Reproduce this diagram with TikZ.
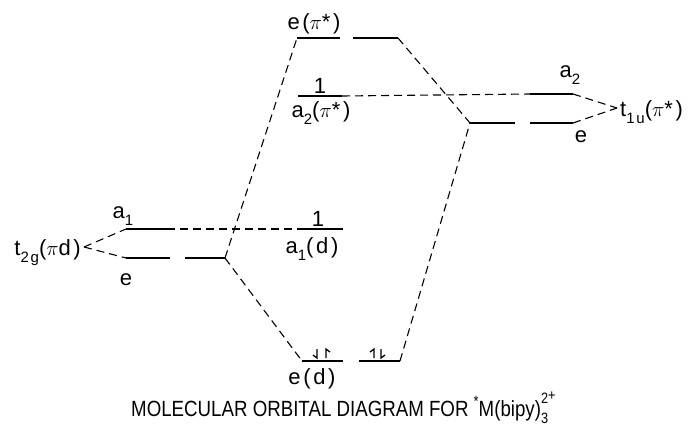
\documentclass[tikz,border=0pt]{standalone}
\usepackage{fontspec}
\setmainfont{Liberation Sans}
\newfontfamily\labf[LetterSpace=12]{Liberation Sans}
\newfontfamily\capf[FakeStretch=0.85]{Liberation Sans}
\newcommand\lsub[1]{\raisebox{-0.35em}{\fontsize{15}{15}\selectfont #1}}
\tikzset{
  lvl/.style={line width=1.8pt},
  dsh/.style={line width=1.1pt, dash pattern=on 8pt off 5pt},
  harp/.style={line width=1.3pt},
  lab/.style={font=\labf\fontsize{22}{22}\selectfont, inner sep=0pt},
}
\begin{document}
\begin{tikzpicture}[x=1pt,y=-1pt]
\useasboundingbox (0,0) rectangle (695,426);
% level end points
\coordinate (ePiL1) at (297,38);  \coordinate (ePiL2) at (340,38);
\coordinate (ePiR1) at (353,38);  \coordinate (ePiR2) at (398,38);
\coordinate (a2Pi1) at (298,96);  \coordinate (a2Pi2) at (342,96);
\coordinate (ta1) at (530,94);    \coordinate (ta2) at (573,94);
\coordinate (teL1) at (470,123);  \coordinate (teL2) at (515,123);
\coordinate (teR1) at (530,123);  \coordinate (teR2) at (573,123);
\coordinate (la1) at (126,229);   \coordinate (la2) at (167,229);
\coordinate (leL1) at (126,258);  \coordinate (leL2) at (170,258);
\coordinate (leR1) at (185,258);  \coordinate (leR2) at (225,258);
\coordinate (a1d1) at (297,229);  \coordinate (a1d2) at (343,229);
\coordinate (edL1) at (302,361);  \coordinate (edL2) at (343,361);
\coordinate (edR1) at (359,361);  \coordinate (edR2) at (400,361);
\coordinate (tipL) at (84,247);
\coordinate (tipR) at (617,108);
% levels
\draw[lvl] (ePiL1) -- (ePiL2);
\draw[lvl] (ePiR1) -- (ePiR2);
\draw[lvl] (a2Pi1) -- (a2Pi2);
\draw[lvl] (ta1) -- (ta2);
\draw[lvl] (teL1) -- (teL2);
\draw[lvl] (teR1) -- (teR2);
\draw[lvl] (la1) -- (la2);
\draw[lvl] (leL1) -- (leL2);
\draw[lvl] (leR1) -- (leR2);
\draw[lvl] (a1d1) -- (a1d2);
\draw[lvl] (edL1) -- (edL2);
\draw[lvl] (edR1) -- (edR2);
% correlation lines
\draw[dsh] (la2) -- (a1d1);
\draw[dsh] (a2Pi2) -- (ta1);
\draw[dsh] (leR2) -- (ePiL1);
\draw[dsh] (leR2) -- (edL1);
\draw[dsh] (ePiR2) -- (teL1);
\draw[dsh] (edR2) -- (teL1);
\draw[dsh] (tipL) -- (la1);
\draw[dsh] (tipL) -- (leL1);
\draw[dsh] (ta2) -- (tipR);
\draw[dsh] (teR2) -- (tipR);
% electrons (harpoons)
\draw[harp] (317,349) -- (317,358) -- (313,355);
\draw[harp] (326,358) -- (326,349) -- (330,352);
\draw[harp] (374,358) -- (374,349) -- (370,352);
\draw[harp] (381,349) -- (381,358) -- (385,355);
% labels
\node[lab, anchor=base] (lePi) at (314,29) {e(\(\pi\)*)};
\node[lab, anchor=base] (one1) at (320,93) {1};
\node[lab, anchor=base] (la2Pi) at (321,117) {a\lsub{2}(\(\pi\)*)};
\node[lab, anchor=base] (one2) at (318,226) {1};
\node[lab, anchor=base] (la1d) at (312,253) {a\lsub{1}(d)};
\node[lab, anchor=base] (lla1) at (123,218) {a\lsub{1}};
\node[lab, anchor=base] (lle) at (126,285) {e};
\node[lab, anchor=base] (lra2) at (570,77) {a\lsub{2}};
\node[lab, anchor=base] (lre) at (581,142) {e};
\node[lab, anchor=base west] (lt1u) at (620,116) {t\lsub{1u}(\(\pi\)*)};
\node[lab, anchor=base east] (lt2g) at (81,255) {t\lsub{2g}(\(\pi\)d)};
\node[lab, anchor=base] (led) at (312,384) {e(d)};
\node[font=\capf\fontsize{22}{22}\selectfont, inner sep=0pt, anchor=base west] (cap) at (131,416)
  {MOLECULAR ORBITAL DIAGRAM FOR \raisebox{0.45em}{\fontsize{15}{15}\selectfont *}M(bipy)\rlap{\raisebox{0.55em}{\fontsize{15}{15}\selectfont 2\raisebox{0.2em}{+}}}\raisebox{-0.35em}{\fontsize{15}{15}\selectfont 3}};
\end{tikzpicture}
\end{document}
